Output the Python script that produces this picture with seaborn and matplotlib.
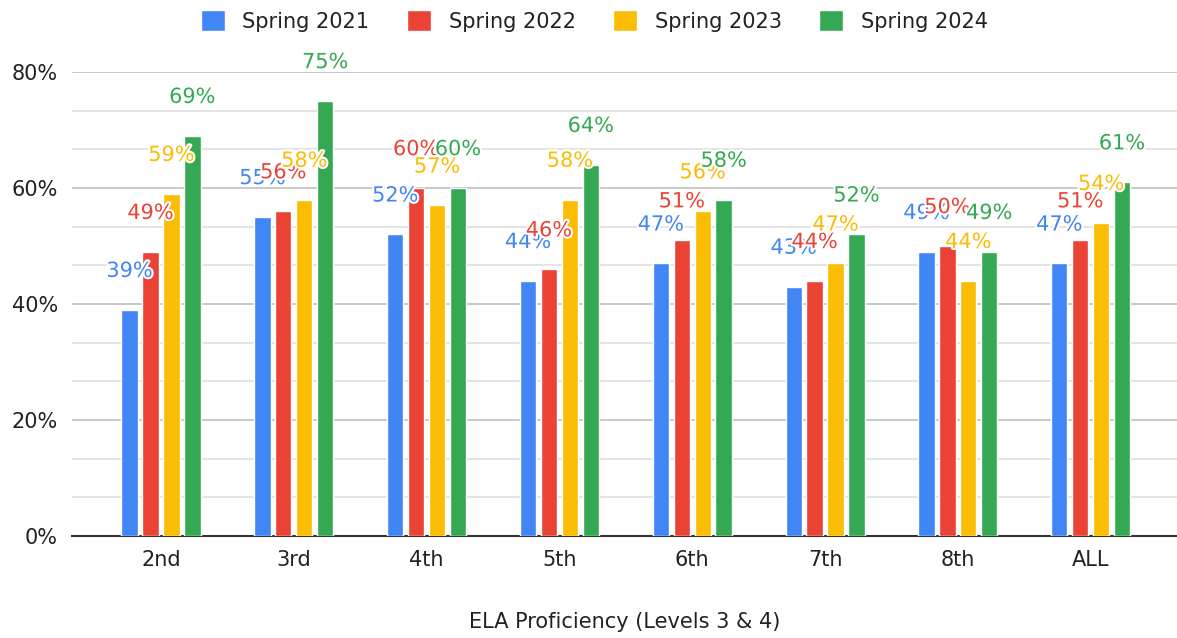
import pandas as pd
import matplotlib.pyplot as plt
import matplotlib.patheffects as pe
from matplotlib.ticker import MultipleLocator, PercentFormatter
import seaborn as sns

# data
grades = ['2nd', '3rd', '4th', '5th', '6th', '7th', '8th', 'ALL']
spring_2021 = [39, 55, 52, 44, 47, 43, 49, 47]
spring_2022 = [49, 56, 60, 46, 51, 44, 50, 51]
spring_2023 = [59, 58, 57, 58, 56, 47, 44, 54]
spring_2024 = [69, 75, 60, 64, 58, 52, 49, 61]
series_names = ['Spring 2021', 'Spring 2022', 'Spring 2023', 'Spring 2024']
colors = ['#4285F4', '#EA4335', '#FBBC04', '#34A853']


def main():
    sns.set_theme(style='white')
    plt.rcParams['font.family'] = ['DejaVu Sans']

    # long-form table for seaborn
    rows = []
    for name, vals in zip(series_names, [spring_2021, spring_2022, spring_2023, spring_2024]):
        for g, v in zip(grades, vals):
            rows.append({'grade': g, 'series': name, 'value': v})
    df = pd.DataFrame(rows)

    fig = plt.figure(figsize=(11.77, 6.38), dpi=100)
    ax = fig.add_axes([72 / 1177, 102 / 638, 1105 / 1177, 464 / 638])

    sns.barplot(data=df, x='grade', y='value', hue='series', palette=colors,
                saturation=1, width=0.63, gap=0.22, ax=ax, legend=True, zorder=3)

    # data labels with white halo, placed above each bar
    for cont in ax.containers:
        col = cont.patches[0].get_facecolor()
        for bar in cont.patches:
            h = bar.get_height()
            ax.annotate(f'{h:.0f}%', (bar.get_x() + bar.get_width() / 2, h),
                        xytext=(0, 28), textcoords='offset points',
                        ha='center', va='center', fontsize=15, color=col,
                        clip_on=False, zorder=5,
                        path_effects=[pe.withStroke(linewidth=3, foreground='white')])

    ax.set_ylim(0, 80)
    ax.set_xlim(-0.67, 7.65)
    ax.yaxis.set_major_locator(MultipleLocator(20))
    ax.yaxis.set_minor_locator(MultipleLocator(20 / 3))
    ax.yaxis.set_major_formatter(PercentFormatter(decimals=0))
    ax.grid(axis='y', which='major', color='#c8c8c8', linewidth=1.4, zorder=0)
    ax.grid(axis='y', which='minor', color='#e4e4e4', linewidth=1.4, zorder=0)
    ax.set_axisbelow(True)
    for s in ['top', 'right', 'left']:
        ax.spines[s].set_visible(False)
    ax.spines['bottom'].set_color('#333333')
    ax.spines['bottom'].set_linewidth(1.5)
    ax.tick_params(axis='both', which='both', length=0, labelsize=15, colors='#222222')
    ax.tick_params(axis='y', pad=10)
    ax.tick_params(axis='x', pad=10)
    ax.set_ylabel('')
    ax.set_xlabel('ELA Proficiency (Levels 3 & 4)', fontsize=15, color='#222222', labelpad=30)

    handles, labels = ax.get_legend_handles_labels()
    ax.get_legend().remove()
    fig.legend(handles, labels, loc='center', bbox_to_anchor=(0.505, 1 - 21 / 638), ncol=4,
               frameon=False, fontsize=15, handlelength=1.15, handleheight=1.15,
               handletextpad=0.85, columnspacing=1.8, labelcolor='#222222')

    fig.savefig('out.png', dpi=100)


if __name__ == '__main__':
    main()
